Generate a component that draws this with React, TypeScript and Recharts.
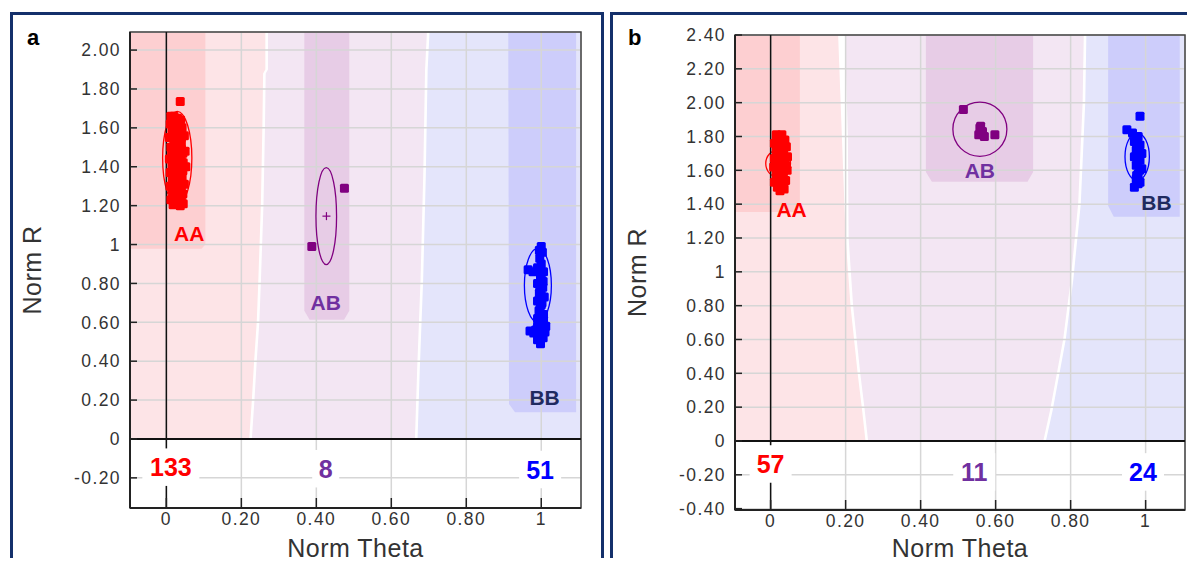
import React from 'react';
import { ScatterChart, Scatter, XAxis, YAxis, CartesianGrid, ReferenceLine, ReferenceArea } from 'recharts';

const FONT = '"Liberation Sans", Arial, Helvetica, sans-serif';

// ---------- shared x axis ----------
const xTicks = [0, 0.2, 0.4, 0.6, 0.8, 1];
const xTickLabels = ['0', '0.20', '0.40', '0.60', '0.80', '1'];

// ---------- panel a ----------
const xDomainA = [-0.097, 1.106];
const yDomainA = [-0.355, 2.093];
const yTicksA = [-0.2, 0, 0.2, 0.4, 0.6, 0.8, 1, 1.2, 1.4, 1.6, 1.8, 2.0];
const yTickLabelsA = ['-0.20', '0', '0.20', '0.40', '0.60', '0.80', '1', '1.20', '1.40', '1.60', '1.80', '2.00'];

const pinkLightA = [[-0.097, 0], [0.221, 0], [0.228, 0.2], [0.234, 0.4], [0.241, 0.6], [0.245, 0.8], [0.252, 1.2], [0.256, 1.6], [0.258, 1.88], [0.264, 1.9], [0.264, 2.093], [-0.097, 2.093]];
const lavLightA = [[0.228, 0], [0.663, 0], [0.669, 0.36], [0.678, 0.82], [0.685, 1.35], [0.69, 1.9], [0.695, 2.093], [0.271, 2.093], [0.271, 1.9], [0.265, 1.88], [0.263, 1.6], [0.259, 1.2], [0.252, 0.8], [0.248, 0.6], [0.241, 0.4], [0.235, 0.2]];
const blueLightA = [[0.670, 0], [1.106, 0], [1.106, 2.093], [0.702, 2.093], [0.697, 1.9], [0.692, 1.35], [0.685, 0.82], [0.676, 0.36]];
const aaDarkA = [[-0.097, 2.093], [0.104, 2.093], [0.104, 1.0], [0.094, 0.978], [-0.097, 0.978]];
const abDarkA = [[0.368, 2.093], [0.488, 2.093], [0.488, 0.66], [0.474, 0.613], [0.382, 0.613], [0.368, 0.66]];
const bbDarkA = [[0.912, 2.093], [1.093, 2.093], [1.093, 0.137], [0.93, 0.137], [0.914, 0.18]];

const aaPtsA = [[0.012, 1.66], [0.02, 1.66], [0.03, 1.65], [0.038, 1.64], [0.01, 1.62], [0.025, 1.62], [0.042, 1.6], [0.015, 1.58], [0.032, 1.57], [0.048, 1.56], [0.008, 1.55], [0.022, 1.54], [0.04, 1.52], [0.012, 1.5], [0.03, 1.5], [0.05, 1.48], [0.018, 1.47], [0.036, 1.45], [0.008, 1.44], [0.026, 1.43], [0.045, 1.42], [0.015, 1.4], [0.034, 1.39], [0.052, 1.4], [0.01, 1.37], [0.024, 1.36], [0.042, 1.35], [0.016, 1.33], [0.032, 1.32], [0.048, 1.31], [0.01, 1.3], [0.026, 1.29], [0.04, 1.28], [0.018, 1.26], [0.034, 1.25], [0.012, 1.23], [0.028, 1.22], [0.045, 1.21], [0.018, 1.205], [0.037, 1.2], [0.037, 1.735], [0.03, 1.6], [0.02, 1.35], [0.044, 1.47],
  [0.02, 1.64], [0.035, 1.62], [0.02, 1.6], [0.024, 1.57], [0.04, 1.55], [0.03, 1.53], [0.02, 1.51], [0.04, 1.49], [0.025, 1.48], [0.014, 1.46], [0.03, 1.44], [0.04, 1.43], [0.02, 1.42], [0.028, 1.4], [0.044, 1.38], [0.018, 1.38], [0.034, 1.36], [0.026, 1.34], [0.04, 1.33], [0.022, 1.31], [0.038, 1.3], [0.016, 1.28], [0.03, 1.27], [0.044, 1.26], [0.024, 1.24], [0.04, 1.23]];
const abPtsA = [[0.388, 0.99], [0.475, 1.29]];
const bbPtsA = [[1.0, 0.99], [1.003, 0.96], [0.996, 0.93], [0.965, 0.87], [0.99, 0.88], [1.006, 0.86], [0.998, 0.83], [0.99, 0.8], [1.004, 0.78], [0.995, 0.75], [1.008, 0.73], [0.99, 0.71], [1.0, 0.69], [0.994, 0.66], [1.006, 0.64], [0.99, 0.62], [1.0, 0.6], [0.97, 0.555], [0.985, 0.56], [1.0, 0.57], [1.012, 0.58], [0.992, 0.53], [1.005, 0.52], [0.998, 0.49], [0.98, 0.545], [1.01, 0.55],
  [0.995, 0.97], [1.0, 0.9], [0.978, 0.86], [1.0, 0.85], [1.005, 0.81], [0.996, 0.77], [1.0, 0.74], [1.002, 0.7], [0.997, 0.67], [1.0, 0.63], [0.996, 0.59], [1.006, 0.61], [0.99, 0.58], [1.002, 0.54], [0.99, 0.51]];
const centerA = [[0.427, 1.146]];

const ellipsesA = [
  { x1: -0.01, x2: 0.068, y1: 1.204, y2: 1.685, color: '#ff0000' },
  { x1: 0.399, x2: 0.454, y1: 0.897, y2: 1.395, color: '#800080' },
  { x1: 0.955, x2: 1.027, y1: 0.6, y2: 0.98, color: '#0000ff' },
];

const labelsA = [
  { x: 0.061, y: 1.055, text: 'AA', color: '#ff0000', size: 21, bg: false },
  { x: 0.425, y: 0.703, text: 'AB', color: '#7030a0', size: 21, bg: false },
  { x: 1.009, y: 0.215, text: 'BB', color: '#1f2a60', size: 21, bg: false },
  { x: 0.012, y: -0.145, text: '133', color: '#ff0000', size: 25, bg: true },
  { x: 0.425, y: -0.153, text: '8', color: '#7030a0', size: 25, bg: true },
  { x: 0.997, y: -0.157, text: '51', color: '#0000ff', size: 25, bg: true },
];

// ---------- panel b ----------
const xDomainB = [-0.095, 1.105];
const yDomainB = [-0.408, 2.4];
const yTicksB = [-0.4, -0.2, 0, 0.2, 0.4, 0.6, 0.8, 1, 1.2, 1.4, 1.6, 1.8, 2.0, 2.2, 2.4];
const yTickLabelsB = ['-0.40', '-0.20', '0', '0.20', '0.40', '0.60', '0.80', '1', '1.20', '1.40', '1.60', '1.80', '2.00', '2.20', '2.40'];

const pinkLightB = [[-0.095, 0], [0.253, 0], [0.243, 0.2], [0.232, 0.4], [0.213, 0.8], [0.2, 1.2], [0.19, 1.8], [0.18, 2.4], [-0.095, 2.4]];
const lavLightB = [[0.26, 0], [0.727, 0], [0.745, 0.18], [0.78, 0.6], [0.8, 0.95], [0.82, 1.4], [0.832, 2.0], [0.835, 2.4], [0.198, 2.4], [0.206, 1.8], [0.208, 1.2], [0.22, 0.8], [0.239, 0.4], [0.25, 0.2]];
const blueLightB = [[0.734, 0], [1.105, 0], [1.105, 2.4], [0.842, 2.4], [0.839, 2.0], [0.827, 1.4], [0.807, 0.95], [0.787, 0.6], [0.752, 0.18]];
const aaDarkB = [[-0.095, 2.4], [0.078, 2.4], [0.078, 1.353], [-0.095, 1.353]];
const abDarkB = [[0.414, 2.4], [0.7, 2.4], [0.7, 1.59], [0.685, 1.533], [0.43, 1.533], [0.414, 1.59]];
const bbDarkB = [[0.9, 2.4], [1.091, 2.4], [1.091, 1.326], [0.915, 1.326], [0.9, 1.39]];

const aaPtsB = [[0.015, 1.81], [0.03, 1.81], [0.022, 1.79], [0.038, 1.78], [0.01, 1.76], [0.028, 1.75], [0.042, 1.74], [0.015, 1.72], [0.035, 1.71], [0.022, 1.69], [0.045, 1.68], [0.01, 1.67], [0.03, 1.66], [0.018, 1.64], [0.04, 1.63], [0.008, 1.62], [0.026, 1.61], [0.044, 1.6], [0.015, 1.58], [0.034, 1.57], [0.022, 1.55], [0.04, 1.54], [0.01, 1.53], [0.03, 1.52], [0.018, 1.5], [0.036, 1.49], [0.025, 1.48],
  [0.022, 1.77], [0.03, 1.73], [0.02, 1.71], [0.03, 1.69], [0.036, 1.66], [0.022, 1.65], [0.03, 1.63], [0.02, 1.61], [0.035, 1.6], [0.027, 1.58], [0.03, 1.55], [0.02, 1.53]];
const abPtsB = [[0.514, 1.96], [0.558, 1.85], [0.565, 1.83], [0.555, 1.81], [0.57, 1.8], [0.598, 1.81], [0.56, 1.86]];
const bbPtsB = [[0.985, 1.92], [0.95, 1.84], [0.965, 1.82], [0.98, 1.8], [0.97, 1.77], [0.985, 1.75], [0.975, 1.72], [0.99, 1.7], [0.97, 1.68], [0.985, 1.66], [0.975, 1.63], [0.99, 1.61], [0.98, 1.58], [0.975, 1.55], [0.97, 1.5], [0.985, 1.53],
  [0.978, 1.78], [0.98, 1.74], [0.982, 1.69], [0.978, 1.65], [0.984, 1.6], [0.976, 1.57], [0.98, 1.52]];

const ellipsesB = [
  { x1: -0.013, x2: 0.053, y1: 1.56, y2: 1.72, color: '#ff0000' },
  { x1: 0.486, x2: 0.63, y1: 1.683, y2: 2.003, color: '#800080' },
  { x1: 0.945, x2: 1.01, y1: 1.54, y2: 1.82, color: '#0000ff' },
];

const labelsB = [
  { x: 0.056, y: 1.366, text: 'AA', color: '#ff0000', size: 21, bg: false },
  { x: 0.558, y: 1.598, text: 'AB', color: '#7030a0', size: 21, bg: false },
  { x: 1.029, y: 1.41, text: 'BB', color: '#1f2a60', size: 21, bg: false },
  { x: 0.0, y: -0.136, text: '57', color: '#ff0000', size: 25, bg: true },
  { x: 0.543, y: -0.183, text: '11', color: '#7030a0', size: 25, bg: true },
  { x: 0.993, y: -0.183, text: '24', color: '#0000ff', size: 25, bg: true },
];

// ---------- colours ----------
const C = {
  pinkLight: '#fde4e7',
  aaDark: '#fdcfd1',
  lavLight: '#f3e6f3',
  abDark: '#e7cce6',
  blueLight: '#e4e5fb',
  bbDark: '#cdcdfb',
  red: '#ff0000',
  purple: '#800080',
  blue: '#0000ff',
  grid: '#d6d6d6',
  border: '#14306b',
};

const toPts = (a: number[][]) => a.map(([x, y]) => ({ x, y }));
const Empty = () => <g />;

const squareShape = (color: string) => (p: any) => (
  <rect x={p.cx - 4.5} y={p.cy - 4.5} width={9} height={9} rx={1.5} fill={color} />
);

const PlusMark = (p: any) => (
  <g>
    <line x1={p.cx - 4} x2={p.cx + 4} y1={p.cy} y2={p.cy} stroke={C.purple} strokeWidth={1.2} />
    <line x1={p.cx} x2={p.cx} y1={p.cy - 4} y2={p.cy + 4} stroke={C.purple} strokeWidth={1.2} />
  </g>
);

const TextMark = (p: any) => {
  const d = p.payload;
  const fs = d.size;
  const w = d.text.length * fs * 0.6 + 12;
  const h = fs * 1.5;
  return (
    <g>
      {d.bg ? <rect x={p.cx - w / 2} y={p.cy - h / 2} width={w} height={h} fill="#ffffff" /> : null}
      <text x={p.cx} y={p.cy + fs * 0.36} textAnchor="middle" fill={d.color} fontSize={fs} fontWeight="bold" fontFamily={FONT}>
        {d.text}
      </text>
    </g>
  );
};

const ellipseShape = (color: string) => (p: any) => (
  <ellipse cx={p.x + p.width / 2} cy={p.y + p.height / 2} rx={Math.abs(p.width) / 2} ry={Math.abs(p.height) / 2} fill="none" stroke={color} strokeWidth={1.3} />
);

const fmt = (ticks: number[], labels: string[]) => (v: number) => {
  const i = ticks.findIndex((t) => Math.abs(t - v) < 1e-9);
  return i >= 0 ? labels[i] : String(v);
};

function Panel(props: any) {
  const { width, height, margin, xDomain, yDomain, yTicks, yTickLabels, xAxisHeight, regions, ellipses, series, labels, center } = props;
  const tickStyle = { fontSize: 17.5, fill: '#333', fontFamily: FONT, letterSpacing: 1.4 };
  return (
    <ScatterChart width={width} height={height} margin={margin}>
      {regions.map((r: any, i: number) => (
        <Scatter
          key={'reg' + i}
          data={toPts(r.data)}
          shape={Empty}
          line={{ fill: r.fill, stroke: 'none' }}
          lineJointType="linearClosed"
          isAnimationActive={false}
          zIndex={-200}
        />
      ))}
      <CartesianGrid stroke={C.grid} strokeWidth={1.5} />
      <XAxis
        type="number"
        dataKey="x"
        domain={xDomain}
        allowDataOverflow
        ticks={xTicks}
        interval={0}
        tickFormatter={fmt(xTicks, xTickLabels)}
        height={xAxisHeight}
        tickSize={-10}
        tickMargin={15}
        axisLine={{ stroke: '#222', strokeWidth: 2 }}
        tickLine={{ stroke: '#222', strokeWidth: 1.5 }}
        tick={tickStyle}
        label={{ value: 'Norm Theta', position: 'insideBottom', offset: 9, style: { fontSize: 25, fill: '#333', fontFamily: FONT, letterSpacing: 0.5 } }}
      />
      <YAxis
        type="number"
        dataKey="y"
        domain={yDomain}
        allowDataOverflow
        ticks={yTicks}
        interval={0}
        tickFormatter={fmt(yTicks, yTickLabels)}
        width={120}
        tickSize={-7}
        tickMargin={16}
        axisLine={{ stroke: '#222', strokeWidth: 2 }}
        tickLine={{ stroke: '#222', strokeWidth: 1.5 }}
        tick={tickStyle}
        label={{ value: 'Norm R', angle: -90, position: 'insideLeft', offset: 22, style: { textAnchor: 'middle', fontSize: 25, fill: '#333', fontFamily: FONT, letterSpacing: 0.5 } }}
      />
      <ReferenceArea x1={xDomain[0]} x2={xDomain[1]} y1={yDomain[0]} y2={yDomain[1]} fill="none" stroke="#444" strokeWidth={1.5} ifOverflow="visible" />
      <ReferenceLine y={0} stroke="#111" strokeWidth={2} />
      <ReferenceLine x={0} stroke="#111" strokeWidth={1.5} />
      {ellipses.map((e: any, i: number) => (
        <ReferenceArea key={'el' + i} x1={e.x1} x2={e.x2} y1={e.y1} y2={e.y2} shape={ellipseShape(e.color)} ifOverflow="visible" />
      ))}
      {series.map((s: any, i: number) => (
        <Scatter key={'s' + i} data={toPts(s.data)} shape={squareShape(s.color)} fill={s.color} isAnimationActive={false} />
      ))}
      {center ? <Scatter data={toPts(center)} shape={PlusMark} isAnimationActive={false} /> : null}
      <Scatter data={labels} shape={TextMark} isAnimationActive={false} zIndex={2500} />
    </ScatterChart>
  );
}

export default function App() {
  return (
    <div style={{ position: 'relative', width: 1195, height: 566, margin: -8, overflow: 'hidden', background: '#fff', fontFamily: FONT }}>
      <div style={{ position: 'absolute', left: 10, top: 12, width: 594, height: 620, border: `3px solid ${C.border}`, boxSizing: 'border-box' }} />
      <div style={{ position: 'absolute', left: 610, top: 12, width: 600, height: 620, border: `3px solid ${C.border}`, boxSizing: 'border-box' }} />
      <div style={{ position: 'absolute', left: 27, top: 27, fontSize: 22, lineHeight: '22px', fontWeight: 'bold', color: '#000' }}>a</div>
      <div style={{ position: 'absolute', left: 628, top: 27, fontSize: 22, lineHeight: '22px', fontWeight: 'bold', color: '#000' }}>b</div>
      <div style={{ position: 'absolute', left: 0, top: 0 }}>
        <Panel
          width={605}
          height={566}
          margin={{ top: 32, right: 24, bottom: 0, left: 10 }}
          xDomain={xDomainA}
          yDomain={yDomainA}
          yTicks={yTicksA}
          yTickLabels={yTickLabelsA}
          xAxisHeight={58}
          regions={[
            { data: pinkLightA, fill: C.pinkLight },
            { data: lavLightA, fill: C.lavLight },
            { data: blueLightA, fill: C.blueLight },
            { data: aaDarkA, fill: C.aaDark },
            { data: abDarkA, fill: C.abDark },
            { data: bbDarkA, fill: C.bbDark },
          ]}
          ellipses={ellipsesA}
          series={[
            { data: aaPtsA, color: C.red },
            { data: abPtsA, color: C.purple },
            { data: bbPtsA, color: C.blue },
          ]}
          center={centerA}
          labels={labelsA}
        />
      </div>
      <div style={{ position: 'absolute', left: 605, top: 0 }}>
        <Panel
          width={590}
          height={566}
          margin={{ top: 35, right: 10, bottom: 0, left: 10 }}
          xDomain={xDomainB}
          yDomain={yDomainB}
          yTicks={yTicksB}
          yTickLabels={yTickLabelsB}
          xAxisHeight={56}
          regions={[
            { data: pinkLightB, fill: C.pinkLight },
            { data: lavLightB, fill: C.lavLight },
            { data: blueLightB, fill: C.blueLight },
            { data: aaDarkB, fill: C.aaDark },
            { data: abDarkB, fill: C.abDark },
            { data: bbDarkB, fill: C.bbDark },
          ]}
          ellipses={ellipsesB}
          series={[
            { data: aaPtsB, color: C.red },
            { data: abPtsB, color: C.purple },
            { data: bbPtsB, color: C.blue },
          ]}
          labels={labelsB}
        />
      </div>
    </div>
  );
}
